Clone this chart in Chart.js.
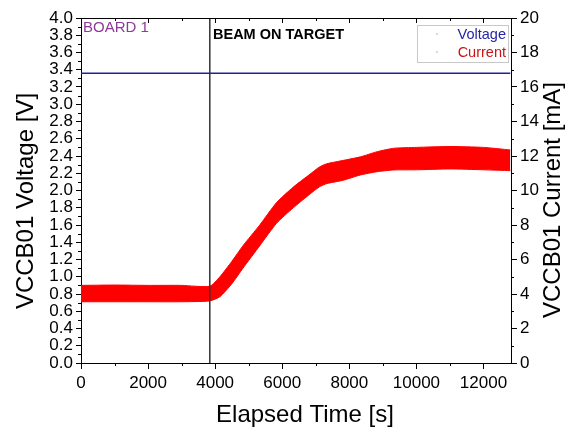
<!DOCTYPE html>
<html>
<head>
<meta charset="utf-8">
<script src="https://cdn.jsdelivr.net/npm/chart.js@4.4.1/dist/chart.umd.min.js"></script>
<style>
  html, body { margin: 0; padding: 0; background: #fff; }
</style>
</head>
<body>
<canvas id="grafico" width="566" height="428"></canvas>
<script>
// Current band (mA): upper and lower edge of the noisy trace
const tempo = [0, 1000, 2000, 3000, 3840, 4140, 4500, 4830, 5330, 5830, 6330, 6830, 7100, 7330, 7830, 8330, 8830, 9330, 10000, 11000, 12000, 12800];
const correnteMax = [4.5, 4.52, 4.5, 4.5, 4.45, 5.0, 5.9, 6.8, 8.0, 9.3, 10.2, 10.95, 11.35, 11.55, 11.75, 11.95, 12.25, 12.45, 12.5, 12.55, 12.5, 12.35];
const correnteMin = [3.55, 3.55, 3.55, 3.55, 3.6, 3.84, 4.6, 5.5, 6.8, 8.1, 9.0, 9.8, 10.2, 10.4, 10.6, 10.9, 11.09, 11.19, 11.2, 11.25, 11.2, 11.15];

// Voltage (V)
const tempoTensao = [0, 3000, 6000, 9000, 12800];
const tensao = [3.36, 3.36, 3.36, 3.36, 3.36];

// beam on target
const inicioFeixe = 3840;

// ticks
const ticksX = [0, 2000, 4000, 6000, 8000, 10000, 12000];
const menoresX = [1000, 3000, 5000, 7000, 9000, 11000];
const ticksV = [0, 0.2, 0.4, 0.6, 0.8, 1.0, 1.2, 1.4, 1.6, 1.8, 2.0, 2.2, 2.4, 2.6, 2.8, 3.0, 3.2, 3.4, 3.6, 3.8, 4.0];
const menoresV = [0.1, 0.3, 0.5, 0.7, 0.9, 1.1, 1.3, 1.5, 1.7, 1.9, 2.1, 2.3, 2.5, 2.7, 2.9, 3.1, 3.3, 3.5, 3.7, 3.9];
const ticksI = [0, 2, 4, 6, 8, 10, 12, 14, 16, 18, 20];
const menoresI = [1, 3, 5, 7, 9, 11, 13, 15, 17, 19];

const fonte = "'Liberation Sans', Arial, sans-serif";
Chart.defaults.font.family = fonte;
Chart.defaults.color = "#000";

const pontos = (xs, ys) => xs.map((x, i) => ({ x: x, y: ys[i] }));

// frame, minor ticks, titles, legend and labels
const extras = {
  id: "extras",
  afterDraw(chart) {
    const { ctx, chartArea: a, scales } = chart;
    const sx = scales.x, sv = scales.y, si = scales.yR;
    ctx.save();
    ctx.strokeStyle = "#000";
    ctx.lineWidth = 1;
    ctx.beginPath();
    ctx.moveTo(a.left, a.top + 0.5);
    ctx.lineTo(a.right, a.top + 0.5);
    // top ticks (inside)
    ticksX.forEach(v => { const p = Math.round(sx.getPixelForValue(v)) + 0.5; ctx.moveTo(p, a.top); ctx.lineTo(p, a.top + 5); });
    menoresX.forEach(v => { const p = Math.round(sx.getPixelForValue(v)) + 0.5; ctx.moveTo(p, a.top); ctx.lineTo(p, a.top + 3); });
    // minor ticks
    menoresX.forEach(v => { const p = Math.round(sx.getPixelForValue(v)) + 0.5; ctx.moveTo(p, a.bottom); ctx.lineTo(p, a.bottom + 3); });
    menoresV.forEach(v => { const p = Math.round(sv.getPixelForValue(v)) + 0.5; ctx.moveTo(a.left, p); ctx.lineTo(a.left - 3, p); });
    menoresI.forEach(v => { const p = Math.round(si.getPixelForValue(v)) + 0.5; ctx.moveTo(a.right, p); ctx.lineTo(a.right + 3, p); });
    ctx.stroke();

    // axis titles
    ctx.font = "24px " + fonte;
    ctx.fillStyle = "#000";
    ctx.textAlign = "center";
    ctx.textBaseline = "middle";
    ctx.fillText("Elapsed Time [s]", 305, 415);
    ctx.save();
    ctx.translate(26, 201);
    ctx.rotate(-Math.PI / 2);
    ctx.fillText("VCCB01 Voltage [V]", 0, 0);
    ctx.restore();
    ctx.save();
    ctx.translate(553, 200);
    ctx.rotate(-Math.PI / 2);
    ctx.fillText("VCCB01 Current [mA]", 0, 0);
    ctx.restore();

    // annotations
    ctx.textAlign = "left";
    ctx.font = "15px " + fonte;
    ctx.fillStyle = "#8e3a98";
    ctx.fillText("BOARD 1", 83, 28);
    ctx.font = "bold 14.5px " + fonte;
    ctx.fillStyle = "#000";
    ctx.fillText("BEAM ON TARGET", 213, 35);

    // legend
    ctx.strokeStyle = "#c8c8c8";
    ctx.strokeRect(417.5, 25.5, 91, 37);
    ctx.fillStyle = "#d8d8d8";
    ctx.fillRect(436, 33, 2, 2);
    ctx.fillRect(436, 51, 2, 2);
    ctx.font = "14.5px " + fonte;
    ctx.textAlign = "right";
    ctx.fillStyle = "#2424a8";
    ctx.fillText("Voltage", 506, 34.5);
    ctx.fillStyle = "#cc1414";
    ctx.fillText("Current", 506, 52.5);
    ctx.restore();
  }
};

new Chart(document.getElementById("grafico"), {
  type: "line",
  data: {
    datasets: [
      {
        label: "Beam",
        data: [{ x: inicioFeixe, y: 0 }, { x: inicioFeixe, y: 4 }],
        yAxisID: "y",
        borderColor: "#333",
        borderWidth: 1.5,
        pointRadius: 0
      },
      {
        label: "Voltage",
        data: pontos(tempoTensao, tensao),
        yAxisID: "y",
        borderColor: "#2020a0",
        borderWidth: 1.5,
        pointRadius: 0
      },
      {
        label: "Current",
        data: pontos(tempo, correnteMax),
        yAxisID: "yR",
        borderColor: "#ff0000",
        backgroundColor: "#ff0000",
        borderWidth: 1,
        pointRadius: 0,
        tension: 0.2,
        fill: "+1"
      },
      {
        label: "Current min",
        data: pontos(tempo, correnteMin),
        yAxisID: "yR",
        borderColor: "#ff0000",
        borderWidth: 1,
        pointRadius: 0,
        tension: 0.2,
        fill: false
      }
    ]
  },
  options: {
    responsive: false,
    animation: false,
    devicePixelRatio: 1,
    layout: { padding: { top: 18, left: 0, right: 0, bottom: 0 } },
    plugins: { legend: { display: false }, tooltip: { enabled: false } },
    scales: {
      x: {
        type: "linear",
        min: 0,
        max: 12820,
        afterBuildTicks: s => { s.ticks = ticksX.map(v => ({ value: v })); },
        afterFit: s => { s.height = 65; },
        ticks: { font: { size: 17 }, padding: 4, maxRotation: 0, autoSkip: false, callback: v => String(v) },
        grid: { drawOnChartArea: false, tickLength: 6, color: "#000" },
        border: { color: "#000", width: 1 }
      },
      y: {
        position: "left",
        min: 0,
        max: 4,
        afterBuildTicks: s => { s.ticks = ticksV.map(v => ({ value: v })); },
        afterFit: s => { s.width = 81; },
        ticks: { font: { size: 17 }, padding: 3, autoSkip: false, callback: v => v.toFixed(1) },
        grid: { drawOnChartArea: false, tickLength: 5, color: "#000" },
        border: { color: "#000", width: 1 }
      },
      yR: {
        position: "right",
        min: 0,
        max: 20,
        afterBuildTicks: s => { s.ticks = ticksI.map(v => ({ value: v })); },
        afterFit: s => { s.width = 55; },
        ticks: { font: { size: 17 }, padding: 3, autoSkip: false },
        grid: { drawOnChartArea: false, tickLength: 6, color: "#000" },
        border: { color: "#000", width: 1 }
      }
    }
  },
  plugins: [extras]
});
</script>
</body>
</html>
